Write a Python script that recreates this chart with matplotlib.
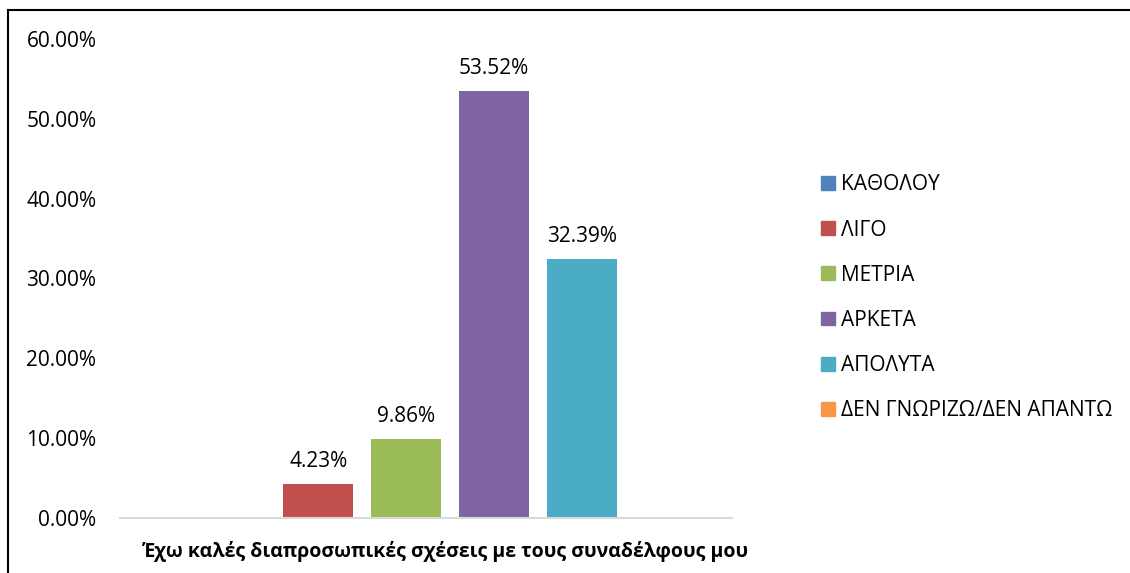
import matplotlib
matplotlib.use("Agg")
import matplotlib.pyplot as plt
from matplotlib.lines import Line2D
from matplotlib.ticker import FuncFormatter

plt.rcParams['font.family'] = ['Open Sans', 'DejaVu Sans']

categories = ["ΚΑΘΟΛΟΥ", "ΛΙΓΟ", "ΜΕΤΡΙΑ", "ΑΡΚΕΤΑ", "ΑΠΟΛΥΤΑ",
              "ΔΕΝ ΓΝΩΡΙΖΩ/ΔΕΝ ΑΠΑΝΤΩ"]
values = [0.0, 4.23, 9.86, 53.52, 32.39, 0.0]
colors = ["#4F81BD", "#C0504D", "#9BBB59", "#8064A2", "#4BACC6", "#F79646"]
xlabel = "Έχω καλές διαπροσωπικές σχέσεις με τους συναδέλφους μου"
yticks = [0, 10, 20, 30, 40, 50, 60]

fig = plt.figure(figsize=(11.3, 5.73), dpi=100)
ax = fig.add_axes([120 / 1130, 55 / 573, 612 / 1130, 479 / 573])

handles = []
for i, (cat, v, c) in enumerate(zip(categories, values, colors)):
    ax.bar(i, v, width=0.795, color=c)
    if v > 0:
        ax.text(i, v + 1.5, f"{v:.2f}%", ha="center", va="bottom", fontsize=15)
    handles.append(plt.Rectangle((0, 0), 1, 1, color=c, label=cat))

ax.set_xlim(-1.25, 5.7)
ax.set_ylim(0, 60)
ax.set_yticks(yticks)
ax.yaxis.set_major_formatter(FuncFormatter(lambda y, _: f"{y:.2f}%"))
ax.tick_params(axis="y", length=0, labelsize=15, pad=17)
ax.set_xticks([])
for s in ["top", "right", "left"]:
    ax.spines[s].set_visible(False)
ax.spines["bottom"].set_color("#D9D9D9")
ax.spines["bottom"].set_linewidth(1.5)

# category axis title sits a bit right of the plot centre
fig.text(446 / 1130, 1 - 551 / 573, xlabel, ha="center", va="center",
         fontsize=14, fontweight="bold")

fig.legend(handles=handles, loc="upper left", bbox_to_anchor=(813 / 1130, 1 - 166 / 573),
           frameon=False, fontsize=15, handlelength=0.65, handleheight=0.65,
           handletextpad=0.3, labelspacing=1.16, borderaxespad=0)

# outer frame (top and left edges)
fig.add_artist(Line2D([8 / 1130, 1], [1 - 10 / 573, 1 - 10 / 573], color="black", lw=1.5,
                      transform=fig.transFigure))
fig.add_artist(Line2D([8 / 1130, 8 / 1130], [0, 1 - 10 / 573], color="black", lw=1.5,
                      transform=fig.transFigure))

fig.savefig("out.png", dpi=100)
